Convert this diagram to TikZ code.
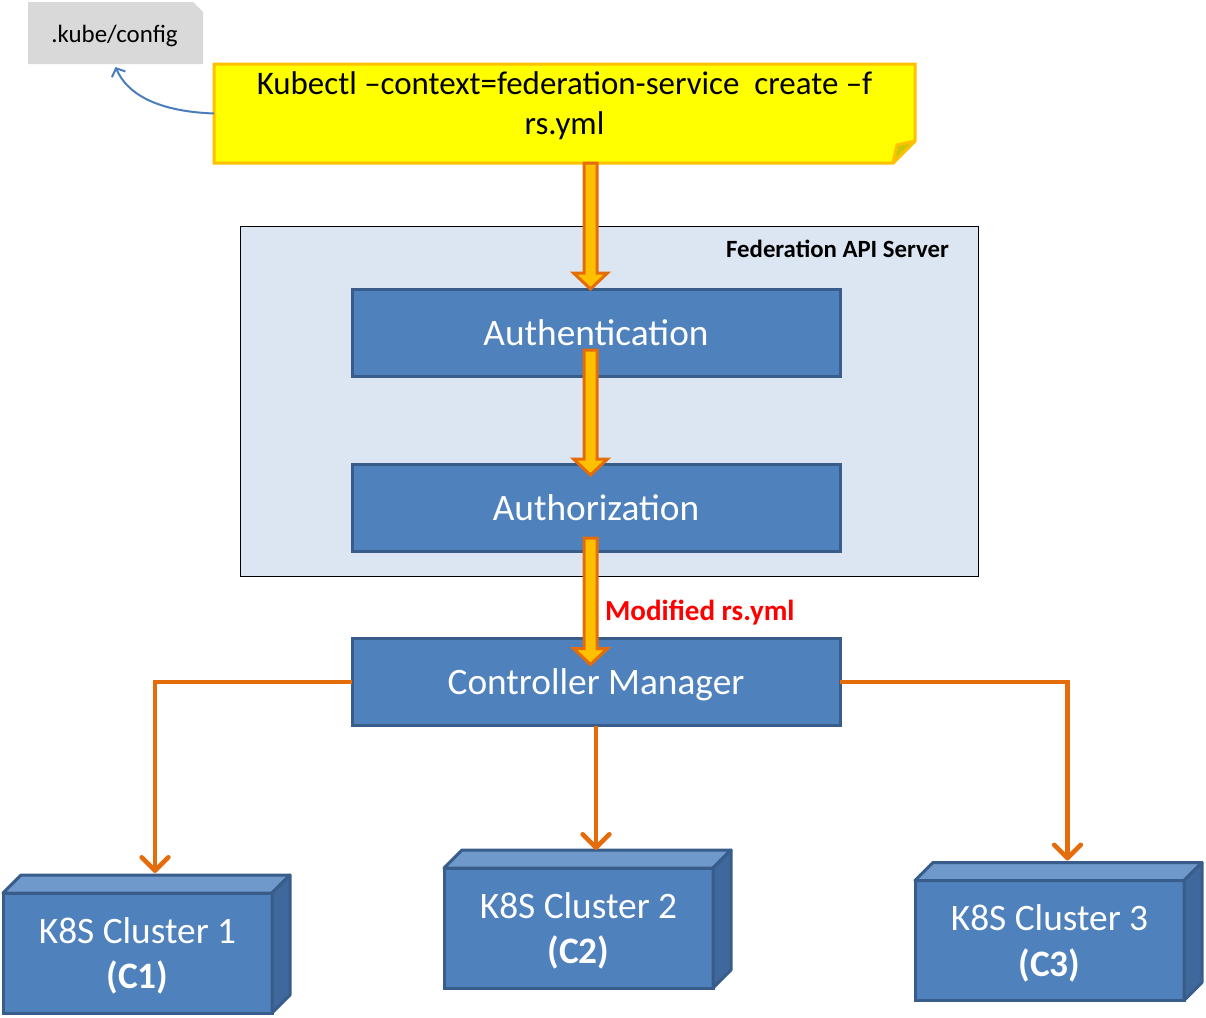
\documentclass[tikz,border=0pt]{standalone}
\usepackage{fontspec}
\setmainfont{Carlito}
\usetikzlibrary{arrows.meta,calc,backgrounds}
\definecolor{bluefill}{HTML}{4F81BD}
\definecolor{blueline}{HTML}{385D8A}
\definecolor{bluetop}{HTML}{6F98CB}
\definecolor{blueside}{HTML}{3F689C}
\definecolor{fedfill}{HTML}{DCE6F2}
\definecolor{notefill}{HTML}{FFFF00}
\definecolor{noteline}{HTML}{FFC000}
\definecolor{foldfill}{HTML}{C8C800}
\definecolor{orangeline}{HTML}{E46C0A}
\definecolor{arrowfill}{HTML}{FFC000}
\definecolor{kubegray}{HTML}{D9D9D9}
\definecolor{curveblue}{HTML}{4A7EBB}
\newcommand\fsz[2]{\fontsize{#1}{#2}\selectfont}
\newcommand\blockarrow[2]{%
  \draw[barrow] ($#1+(-6.5,0)$) -- ($#2+(-6.5,-16)$) -- ($#2+(-17,-16)$) -- #2
    -- ($#2+(17,-16)$) -- ($#2+(6.5,-16)$) -- ($#1+(6.5,0)$) -- cycle;}
\tikzset{
  plain/.style={inner sep=0pt, outer sep=0pt},
  procbox/.style={plain, fill=bluefill, draw=blueline, line width=2.25pt, text=white,
    font=\fsz{28}{34}, text depth=0pt, minimum width=366pt, minimum height=65.25pt},
  clusterbox/.style={plain, fill=bluefill, draw=blueline, line width=2.25pt, text=white,
    font=\fsz{28}{34}, align=center, text depth=0pt, minimum width=201.75pt, minimum height=90pt},
  topface/.style={fill=bluetop, draw=blueline, line width=2.25pt, line join=round},
  sideface/.style={fill=blueside, draw=blueline, line width=2.25pt, line join=round},
  barrow/.style={fill=arrowfill, draw=orangeline, line width=2.25pt, line join=miter},
  conn/.style={draw=orangeline, line width=3.5pt,
    -{Straight Barb[length=10pt,width=20pt,round]}},
  bluecurve/.style={draw=curveblue, line width=1.5pt,
    -{Straight Barb[length=5pt,width=11pt]}},
}
\begin{document}
\begin{tikzpicture}[x=0.75pt,y=-0.75pt]
\useasboundingbox (0,0) rectangle (1206,1017);

% .kube/config
\node[plain, minimum width=131.25pt, minimum height=46.5pt, font=\fsz{19}{23}] (kube) at (115.5,33) {};
\node[plain, font=\fsz{18.7}{23}] (kubetxt) at ([shift={(-1,3)}]kube.center) {.kube/config};
\begin{scope}[on background layer]
\fill[kubegray] (kube.north west) -- ([shift={(-10,0)}]kube.north east) -- ([shift={(0,10)}]kube.north east) -- (kube.south east) -- (kube.south west) -- cycle;
\end{scope}

% yellow note
\node[plain, minimum width=525.75pt, minimum height=74.25pt] (note) at (564.5,113.5) {};
\begin{scope}[on background layer]
\filldraw[fill=notefill, draw=noteline, line width=2.25pt, line join=miter]
  (note.north west) -- (note.north east) -- ([shift={(0,-22)}]note.south east)
  -- ([shift={(-22,0)}]note.south east) -- (note.south west) -- cycle;
\filldraw[fill=foldfill, draw=noteline, line width=2.25pt, line join=round]
  ([shift={(-22,0)}]note.south east) -- ([shift={(-18,-18)}]note.south east)
  -- ([shift={(0,-22)}]note.south east) -- cycle;
\end{scope}
\node[plain, align=center, font=\fsz{24.7}{30}] (notetxt) at ([shift={(0,-7.5)}]note.center)
  {Kubectl –context=federation-service\ \ create –f\\rs.yml};

% curved arrow
\draw[bluecurve] (note.west) .. controls +(-55,-2) and +(12,28) .. ([shift={(0,3)}]kube.south);

% Federation API server
\node[plain, fill=fedfill, draw=black, line width=0.75pt, minimum width=553.5pt, minimum height=262.5pt] (fed) at (609,401) {};
\node[plain, anchor=east, font=\bfseries\fsz{18.6}{22}] (fedlabel) at ([shift={(-29,23)}]fed.north east) {Federation API Server};

\node[procbox] (auth) at (596,332.5) {Authentication};
\node[procbox] (authz) at (596,507.5) {Authorization};
\node[procbox] (cm) at (596,682) {Controller Manager};

% block arrows
\coordinate (ax) at (590.5,0);
\coordinate (a1s) at (note.south -| ax);
\coordinate (a1e) at (auth.north -| ax);
\coordinate (a2s) at ($(auth.south -| ax)+(0,-26)$);
\coordinate (a2e) at ($(authz.north -| ax)+(0,11)$);
\coordinate (a3s) at ($(authz.south -| ax)+(0,-13)$);
\coordinate (a3e) at ($(cm.north -| ax)+(0,26)$);
\blockarrow{(a1s)}{(a1e)}
\blockarrow{(a2s)}{(a2e)}
\blockarrow{(a3s)}{(a3e)}

\node[plain, anchor=west, text=red, font=\bfseries\fsz{21.8}{25}] (modlabel) at (605,613) {Modified rs.yml};

% clusters
\node[clusterbox] (c1) at (137.5,953) {K8S Cluster 1\\\textbf{(C1)}};
\node[clusterbox] (c2) at (578.5,928) {K8S Cluster 2\\\textbf{(C2)}};
\node[clusterbox] (c3) at (1049.5,940.5) {K8S Cluster 3\\\textbf{(C3)}};
\foreach \c in {c1,c2,c3}{
  \filldraw[topface] (\c.north west) -- ++(18,-18) -- ([shift={(18,-18)}]\c.north east) -- (\c.north east) -- cycle;
  \filldraw[sideface] (\c.north east) -- ++(18,-18) -- ([shift={(18,-18)}]\c.south east) -- (\c.south east) -- cycle;
}

% connectors
\draw[conn] (cm.west) -| ([shift={(17.5,-20)}]c1.north);
\draw[conn] (cm.south) -- ([shift={(17.5,-18)}]c2.north);
\draw[conn] (cm.east) -| ([shift={(18,-20)}]c3.north);
\end{tikzpicture}
\end{document}
